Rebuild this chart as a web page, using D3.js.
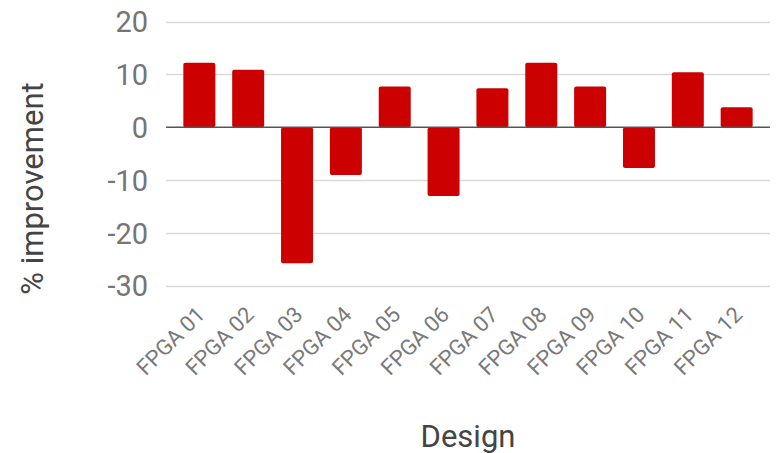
<!DOCTYPE html>
<html><head><meta charset="utf-8">
<script src="https://cdn.jsdelivr.net/npm/d3@7"></script>
<style>html,body{margin:0;padding:0;background:#fff;}svg{display:block;font-family:Roboto,"Noto Sans",sans-serif;}</style>
</head><body>
<svg id="chart" width="776" height="453"></svg>
<script>
const categories = ["FPGA 01","FPGA 02","FPGA 03","FPGA 04","FPGA 05","FPGA 06","FPGA 07","FPGA 08","FPGA 09","FPGA 10","FPGA 11","FPGA 12"];
const improvement = [12.2, 10.9, -25.7, -9.0, 7.7, -13.0, 7.4, 12.2, 7.7, -7.7, 10.4, 3.8];
const yTicks = [20, 10, 0, -10, -20, -30];
const xTitle = "Design";
const yTitle = "% improvement";

const svg = d3.select("#chart");
const plotLeft = 166, plotRight = 770, plotTop = 21.5, plotBottom = 286;

const x = d3.scaleBand().domain(categories).range([plotLeft, plotRight]).paddingInner(0.345).paddingOuter(0.355);
const y = d3.scaleLinear().domain([-30, 20]).range([plotBottom, plotTop]);

// gridlines
svg.append("g").selectAll("line").data(yTicks.filter(d => d !== 0)).join("line")
  .attr("x1", plotLeft).attr("x2", plotRight)
  .attr("y1", d => Math.round(y(d)) + 0.5).attr("y2", d => Math.round(y(d)) + 0.5)
  .attr("stroke", "#d9d9d9").attr("stroke-width", 1.5);

// y tick labels
svg.append("g").selectAll("text").data(yTicks).join("text")
  .attr("x", 148).attr("y", d => y(d)).attr("dy", "0.36em")
  .attr("text-anchor", "end").attr("font-size", 29).attr("fill", "#757575")
  .text(d => d);

// bars
svg.append("g").selectAll("rect").data(improvement).join("rect")
  .attr("x", (d, i) => x(categories[i]))
  .attr("width", x.bandwidth())
  .attr("y", d => y(Math.max(0, d)))
  .attr("height", d => Math.abs(y(d) - y(0)))
  .attr("rx", 2).attr("ry", 2)
  .attr("fill", "#cc0000");

// zero line
svg.append("line").attr("x1", plotLeft).attr("x2", plotRight)
  .attr("y1", y(0)).attr("y2", y(0))
  .attr("stroke", "#555").attr("stroke-width", 1.5);

// x labels
svg.append("g").selectAll("text").data(categories).join("text")
  .attr("transform", d => `translate(${x(d) + x.bandwidth() / 2 + 7},316) rotate(-45)`)
  .attr("text-anchor", "end").attr("font-size", 22).attr("fill", "#7a7a7a")
  .text(d => d);

// axis titles
svg.append("text").attr("x", (plotLeft + plotRight) / 2).attr("y", 446.5)
  .attr("text-anchor", "middle").attr("font-size", 31).attr("fill", "#444")
  .text(xTitle);
svg.append("text").attr("transform", "translate(42.5,188.5) rotate(-90)")
  .attr("text-anchor", "middle").attr("font-size", 31).attr("fill", "#444")
  .text(yTitle);
</script>
</body></html>
